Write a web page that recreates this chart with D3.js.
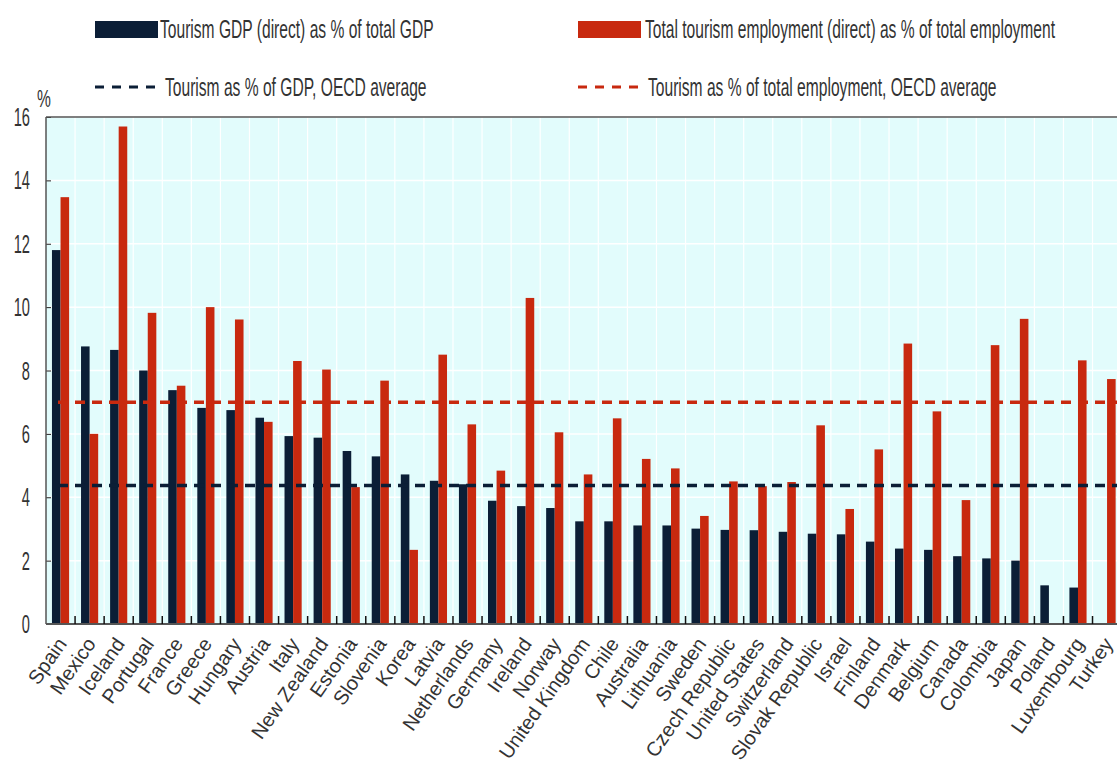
<!DOCTYPE html>
<html><head><meta charset="utf-8">
<script src="https://cdn.jsdelivr.net/npm/d3@7"></script>
<style>
html,body{margin:0;padding:0;background:#fff;overflow:hidden}
text{font-family:"Liberation Sans",Arial,sans-serif;fill:#333}
</style></head>
<body><svg id="c" width="1117" height="774"></svg>
<script>
const countries = ["Spain","Mexico","Iceland","Portugal","France","Greece","Hungary","Austria","Italy","New Zealand","Estonia","Slovenia","Korea","Latvia","Netherlands","Germany","Ireland","Norway","United Kingdom","Chile","Australia","Lithuania","Sweden","Czech Republic","United States","Switzerland","Slovak Republic","Israel","Finland","Denmark","Belgium","Canada","Colombia","Japan","Poland","Luxembourg","Turkey"];
const gdpShare = [11.8,8.76,8.65,8.0,7.38,6.82,6.75,6.51,5.93,5.88,5.46,5.29,4.72,4.52,4.41,3.89,3.72,3.66,3.24,3.24,3.11,3.11,3.01,2.97,2.96,2.91,2.85,2.83,2.60,2.38,2.34,2.14,2.07,2.0,1.22,1.15,null];
const employmentShare = [13.47,6.0,15.7,9.82,7.52,10.0,9.61,6.38,8.30,8.03,4.32,7.68,2.34,8.50,6.30,4.84,10.29,6.05,4.72,6.49,5.21,4.91,3.41,4.50,4.35,4.48,6.27,3.63,5.51,8.85,6.71,3.91,8.80,9.63,null,8.32,7.73];
const oecdGdpAvg = 4.37;
const oecdEmpAvg = 7.0;
const yTicks = [0,2,4,6,8,10,12,14,16];
const seriesNames = ["Tourism GDP (direct) as % of total GDP","Total tourism employment (direct) as % of total employment"];
const avgNames = ["Tourism as % of GDP, OECD average","Tourism as % of total employment, OECD average"];

const dark = "#0b1e36", red = "#c8290f";
const svg = d3.select("#c");
const L = 46, T = 117, B = 624, R = 46 + 29.07*37;
const SX = 0.585; // horizontal text compression
const SXL = 0.6;
const x = d3.scaleBand().domain(countries).range([L, R]).paddingInner(0.41).paddingOuter(0.205);
const xs = d3.scaleBand().domain(["gdp","emp"]).range([0, x.bandwidth()]);
const y = d3.scaleLinear().domain([0,16]).range([B, T]);
const boundary = d => x(d) - x.step()*x.paddingInner()/2;

// background
svg.append("rect").attr("x",L).attr("y",T).attr("width",R-L).attr("height",B-T).attr("fill","#e2fcfc");
// grid
svg.append("g").selectAll("line").data(yTicks).join("line")
  .attr("x1",L).attr("x2",R).attr("y1",d=>y(d)).attr("y2",d=>y(d)).attr("stroke","#fff").attr("stroke-width",1.5);
svg.append("g").selectAll("line").data(countries.slice(1)).join("line")
  .attr("x1",boundary).attr("x2",boundary)
  .attr("y1",T).attr("y2",B).attr("stroke","#fff").attr("stroke-width",1.2);

// bars
const g = svg.append("g");
g.selectAll(".gdp").data(countries.map((c,i)=>({c,v:gdpShare[i]})).filter(d=>d.v!=null)).join("rect")
  .attr("x",d=>x(d.c)+xs("gdp")).attr("width",xs.bandwidth())
  .attr("y",d=>y(d.v)).attr("height",d=>B-y(d.v)).attr("fill",dark);
g.selectAll(".emp").data(countries.map((c,i)=>({c,v:employmentShare[i]})).filter(d=>d.v!=null)).join("rect")
  .attr("x",d=>x(d.c)+xs("emp")).attr("width",xs.bandwidth())
  .attr("y",d=>y(d.v)).attr("height",d=>B-y(d.v)).attr("fill",red);

// average lines
svg.append("line").attr("x1",58).attr("x2",R).attr("y1",y(oecdEmpAvg)).attr("y2",y(oecdEmpAvg))
  .attr("stroke",red).attr("stroke-width",3.5).attr("stroke-dasharray","10,7");
svg.append("line").attr("x1",58).attr("x2",R).attr("y1",y(oecdGdpAvg)).attr("y2",y(oecdGdpAvg))
  .attr("stroke",dark).attr("stroke-width",3.5).attr("stroke-dasharray","10,7");

// axes
const yAxis = svg.append("g").attr("transform",`translate(${L},0)`)
  .call(d3.axisRight(y).tickValues(yTicks).tickSize(5).tickFormat(""));
yAxis.select(".domain").remove();
yAxis.selectAll("line").attr("stroke","#222");
svg.append("g").selectAll("text").data(yTicks).join("text")
  .attr("transform",d=>`translate(30,${y(d)+9}) scale(${SX},1)`)
  .attr("text-anchor","end").attr("font-size",25).text(d=>d);
svg.append("text").attr("transform",`translate(37,107) scale(0.65,1)`).attr("font-size",24).text("%");

// frame
svg.append("line").attr("x1",L).attr("x2",R).attr("y1",T).attr("y2",T).attr("stroke","#555").attr("stroke-width",1.5);
svg.append("line").attr("x1",L).attr("x2",L).attr("y1",T).attr("y2",B).attr("stroke","#555").attr("stroke-width",1.5);
svg.append("line").attr("x1",L).attr("x2",R).attr("y1",B).attr("y2",B).attr("stroke","#555").attr("stroke-width",2);
// x ticks at group boundaries
svg.append("g").selectAll("line").data(countries.slice(1)).join("line")
  .attr("x1",boundary).attr("x2",boundary)
  .attr("y1",B).attr("y2",B-8).attr("stroke","#111").attr("stroke-width",1.5);

// x labels
svg.append("g").selectAll("text").data(countries).join("text")
  .attr("transform",d=>`translate(${x(d)+x.bandwidth()/2+7},${B+20}) rotate(-55)`)
  .attr("text-anchor","end").attr("font-size",20).text(d=>d);

// legend
const lg = svg.append("g");
lg.append("rect").attr("x",95).attr("y",21).attr("width",63).attr("height",17).attr("fill",dark);
lg.append("text").attr("transform",`translate(160,38) scale(${SXL},1)`).attr("font-size",26).text(seriesNames[0]);
lg.append("rect").attr("x",578).attr("y",21).attr("width",63).attr("height",17).attr("fill",red);
lg.append("text").attr("transform",`translate(645,38) scale(${SXL},1)`).attr("font-size",26).text(seriesNames[1]);
lg.append("line").attr("x1",95).attr("x2",157).attr("y1",87).attr("y2",87).attr("stroke",dark).attr("stroke-width",3).attr("stroke-dasharray","9,8");
lg.append("text").attr("transform",`translate(165,96) scale(${SXL},1)`).attr("font-size",26).text(avgNames[0]);
lg.append("line").attr("x1",578).attr("x2",640).attr("y1",87).attr("y2",87).attr("stroke",red).attr("stroke-width",3).attr("stroke-dasharray","9,8");
lg.append("text").attr("transform",`translate(648,96) scale(${SXL},1)`).attr("font-size",26).text(avgNames[1]);
</script></body></html>
